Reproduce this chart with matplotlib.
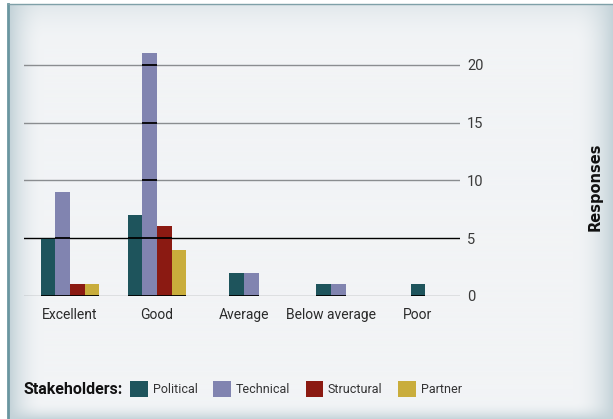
import matplotlib
matplotlib.use("Agg")
import matplotlib.pyplot as plt
import numpy as np
from matplotlib.patches import PathPatch
from matplotlib.path import Path
from matplotlib.lines import Line2D

# Data
categories = ["Excellent", "Good", "Average", "Below average", "Poor"]
series_names = ["Political", "Technical", "Structural", "Partner"]
political = [5, 7, 2, 1, 1]
technical = [9, 21, 2, 1, 0]
structural = [1, 6, 0, 0, 0]
partner = [1, 4, 0, 0, 0]
y_ticks = [0, 5, 10, 15, 20]

colors = ["#1e545c", "#8184b0", "#8b1a12", "#c9ad3c"]
values = [political, technical, structural, partner]

plt.rcParams["font.family"] = ["Roboto", "DejaVu Sans"]

W, H = 613, 419
fig = plt.figure(figsize=(W / 100, H / 100), dpi=100)

# Background with soft vignette on the edges
bg_ax = fig.add_axes([0, 0, 1, 1], zorder=-10)
yy, xx = np.mgrid[0:H, 0:W]
center = np.array([0xf2, 0xf4, 0xf6]) / 255
edge = np.array([0xc3, 0xd2, 0xd8]) / 255
d_left = np.clip((xx - 9) / 35, 0, 1)
d_right = np.clip((W - xx) / 40, 0, 1)
d_top = np.clip((yy - 5) / 40, 0, 1) * 0.6 + 0.4
d_bot = np.clip((H - yy) / 18, 0, 1)
f = (1 - (1 - d_left) ** 2) * (1 - (1 - d_right) ** 2) * (1 - (1 - d_bot) ** 2) * (1 - (1 - d_top) ** 2)
img = edge + (center - edge) * f[..., None]
img[:5, :, :] = 1.0
img[:, :8, :] = 1.0
bg_ax.imshow(img, extent=[0, 1, 0, 1], aspect="auto", origin="upper")
bg_ax.set_axis_off()
fig.add_artist(Line2D([8 / W, 8 / W], [0, 1 - 4 / H], color="#6a96a0", lw=2.0))
fig.add_artist(Line2D([8 / W, 1], [1 - 4.5 / H, 1 - 4.5 / H], color="#7fa0a8", lw=1.0))

ax = fig.add_axes([24 / W, 1 - 295.7 / H, 436 / W, 245.7 / H])
ax.set_facecolor("none")

width = 0.169
bars = []
for i, cat in enumerate(categories):
    present = [k for k in range(len(series_names)) if values[k][i] > 0]
    n = len(present)
    for j, k in enumerate(present):
        x = i + (j - (n - 1) / 2) * width
        b = ax.bar(x, values[k][i], width=width, color=colors[k], zorder=2,
                   label=series_names[k] if i == 0 else None)
        bars.extend(b.patches)

ax.set_xlim(-0.529, 4.483)
ax.set_ylim(0, 21.3)

# gridlines: grey behind, black where they cross the bars
for t in y_ticks:
    ax.axhline(t, color="black" if t == 5 else "#8a8d90", lw=1.0, zorder=1)
clip_path = Path.make_compound_path(
    *[r.get_patch_transform().transform_path(r.get_path()) for r in bars])
clip_patch = PathPatch(clip_path, transform=ax.transData)
for t in y_ticks:
    ln = ax.axhline(t, color="black", lw=1.3, zorder=3)
    ln.set_clip_path(clip_patch)

for s in ax.spines.values():
    s.set_visible(False)
ax.yaxis.tick_right()
ax.set_yticks(y_ticks)
ax.tick_params(axis="y", length=0, pad=5, labelsize=10.5, labelcolor="#3a3a3a")
ax.set_xticks(range(len(categories)))
ax.set_xticklabels(categories)
ax.tick_params(axis="x", length=0, pad=9, labelsize=10, labelcolor="#2a2a2a")

fig.text(0.971, 1 - 187 / H, "Responses", rotation=90, ha="center", va="center",
         fontsize=10.5, fontweight="bold", family=["DejaVu Sans"], color="#111111")

fig.text(23 / W, 1 - 389 / H, "Stakeholders:", ha="left", va="center",
         fontsize=11.5, fontweight="bold", color="#111111")
handles, labels = ax.get_legend_handles_labels()
fig.legend(handles, labels, loc="center left", bbox_to_anchor=(130 / W, 1 - 389 / H),
           ncol=4, frameon=False, prop={"size": 9},
           handlelength=1.4, handleheight=1.7,
           handletextpad=0.4, columnspacing=1.25, borderaxespad=0, borderpad=0,
           labelcolor="#333333")

fig.savefig("out.png", dpi=100)
